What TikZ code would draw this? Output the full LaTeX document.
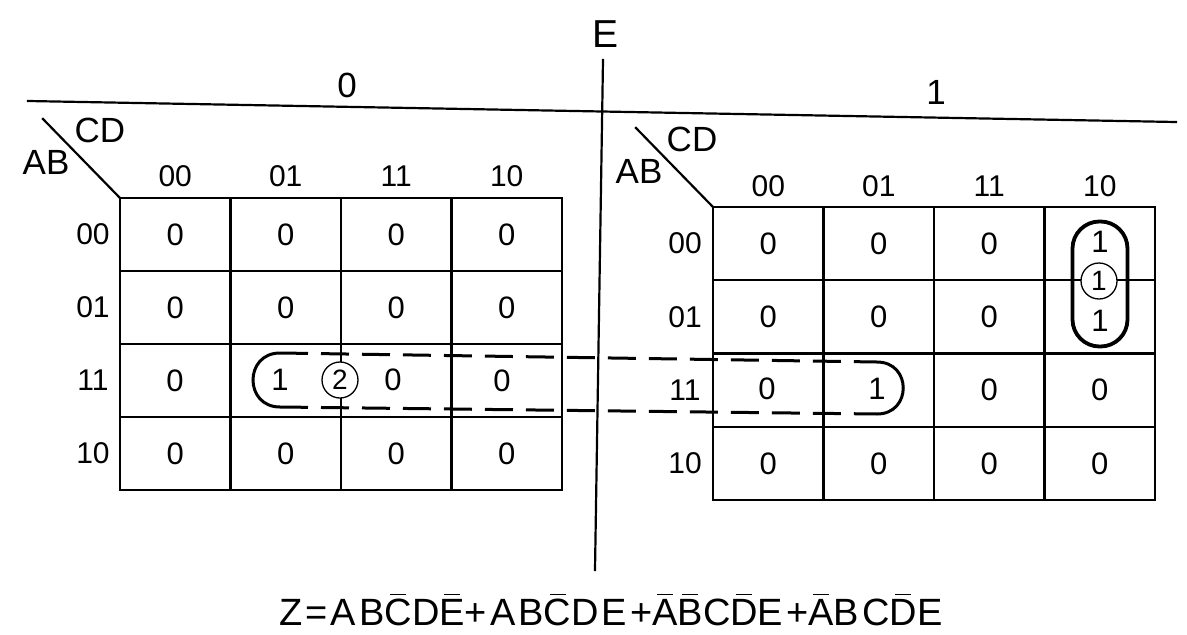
\documentclass[tikz,border=0pt]{standalone}
\usepackage{fontspec}
\setmainfont{Liberation Sans}
\newfontfamily\eqfont{Liberation Sans}[LetterSpace=8]
\usetikzlibrary{positioning,calc}

% complemented letter: short bar over the letter
\newcommand{\nbar}[1]{\ooalign{\hfil\rule[0.8em]{0.42em}{1.5pt}\hfil\cr#1\cr}}

\begin{document}
\begin{tikzpicture}[x=1pt, y=-1pt,
        kgrid/.style={line width=2.2pt, line cap=rect},
        cell/.style={inner sep=0pt, font=\fontsize{31}{33}\selectfont},
        lbl/.style={inner sep=0pt, font=\fontsize{30}{32}\selectfont},
        var/.style={inner sep=0pt, font=\fontsize{35}{37}\selectfont},
        ring/.style={draw, circle, fill=white, line width=1.3pt, minimum size=36pt, inner sep=0pt, font=\fontsize{28}{30}\selectfont},
        pairline/.style={line width=3pt},
        oval/.style={draw, line width=3.8pt, rounded corners=27pt, minimum width=55pt, minimum height=125pt, inner sep=0pt}
    ]
        \useasboundingbox (0,0) rectangle (1187,635);

        % Header: E = 0 | E = 1
        \node[var, font=\fontsize{39}{41}\selectfont] (E) at (606,34) {E};
        \coordinate (Htl) at (28,101);
        \coordinate (Htr) at (1176,122);
        \coordinate (Etop) at (603,60);
        \coordinate (Ebot) at (595,570);
        \draw[kgrid] (Htl) -- (Htr);
        \draw[kgrid] (Etop) -- (Ebot);
        \node[var] (E0) at (347,85) {0};
        \node[var] (E1) at (936,92) {1};

        % Left map (E = 0)
        \begin{scope}[shift={(120,198)}]
            \foreach \i in {0,...,4} {
                \draw[kgrid] ({\i*110.5},0) -- ({\i*110.5},292);
                \draw[kgrid] (0,{\i*73}) -- (442,{\i*73});
            }
            \coordinate (Lcorner) at (0,0);
            \coordinate (Ldiag) at (-77,-79);
            \draw[kgrid] (Ldiag) -- (Lcorner);
            \node[var] (LCD) at (-20,-68) {CD};
            \node[var] (LAB) at (-74,-36) {AB};
            \foreach \c/\lab in {0/00,1/01,2/11,3/10} {
                \node[lbl] (Lcol\c) at ({(\c+0.5)*110.5},-22) {\lab};
                \node[lbl] (Lrow\c) at (-27,{(\c+0.5)*73}) {\lab};
            }
            \foreach \r in {0,1,3}
                \foreach \c in {0,...,3}
                    \node[cell] (L\r\c) at ({(\c+0.5)*110.5},{(\r+0.5)*73}) {0};
            % Row 11
            \node[cell] (L20) at (55,182.5) {0};
            \node[cell] (L21) at (160,182) {1};
            \node[ring] (L2x) at (220,182) {2};
            \node[cell] (L22) at (273,182) {0};
            \node[cell] (L23) at (382,183) {0};
            \coordinate (pairL) at (160,182);
        \end{scope}

        % Right map (E = 1)
        \begin{scope}[shift={(713,207)}]
            \foreach \i in {0,...,4} {
                \draw[kgrid] ({\i*110.5},0) -- ({\i*110.5},293);
                \draw[kgrid] (0,{\i*73.25}) -- (442,{\i*73.25});
            }
            \coordinate (Rcorner) at (0,0);
            \coordinate (Rdiag) at (-77,-79);
            \draw[kgrid] (Rdiag) -- (Rcorner);
            \node[var] (RCD) at (-21,-68) {CD};
            \node[var] (RAB) at (-74,-36) {AB};
            \foreach \c/\lab in {0/00,1/01,2/11,3/10} {
                \node[lbl] (Rcol\c) at ({(\c+0.5)*110.5},-21) {\lab};
                \node[lbl] (Rrow\c) at (-28,{(\c+0.5)*73.25}) {\lab};
            }
            \foreach \r/\c in {0/0,0/1,0/2,1/0,1/1,1/2,2/2,2/3,3/0,3/1,3/2,3/3}
                \node[cell] (R\r\c) at ({(\c+0.5)*110.5},{(\r+0.5)*73.25}) {0};
            % Row 11
            \node[cell] (R20) at (54,182) {0};
            \node[cell] (R21) at (164,182) {1};
            \coordinate (pairR) at (164,181);
            % Column 10, rows 00 and 01
            \node[oval] (Rgrp) at (387,77) {};
            \node[ring] (R0x) at (386,74) {1};
            \node[cell] (R03) at (387,35) {1};
            \node[cell] (R13) at (387,114) {1};
        \end{scope}

        % Pair across the two maps
        \draw[pairline, dash pattern=on 28pt off 13pt] ($(pairL)+(0,-27)$) -- ($(pairR)+(0,-26)$);
        \draw[pairline, dash pattern=on 28pt off 13pt] ($(pairL)+(0,27)$) -- ($(pairR)+(0,26)$);
        \draw[pairline] ($(pairL)+(0,-27)$) .. controls ($(pairL)+(-36,-27)$) and ($(pairL)+(-36,27)$) .. ($(pairL)+(0,27)$);
        \draw[pairline] ($(pairR)+(0,-26)$) .. controls ($(pairR)+(35,-26)$) and ($(pairR)+(35,26)$) .. ($(pairR)+(0,26)$);

        % Result
        \node[inner sep=0pt, font=\eqfont\fontsize{38}{42}\selectfont] (Zeq) at (611,610)
            {Z=AB\nbar{C}D\nbar{E}+AB\nbar{C}DE+\nbar{A}\nbar{B}C\nbar{D}E+\nbar{A}BC\nbar{D}E};
    \end{tikzpicture}
\end{document}
